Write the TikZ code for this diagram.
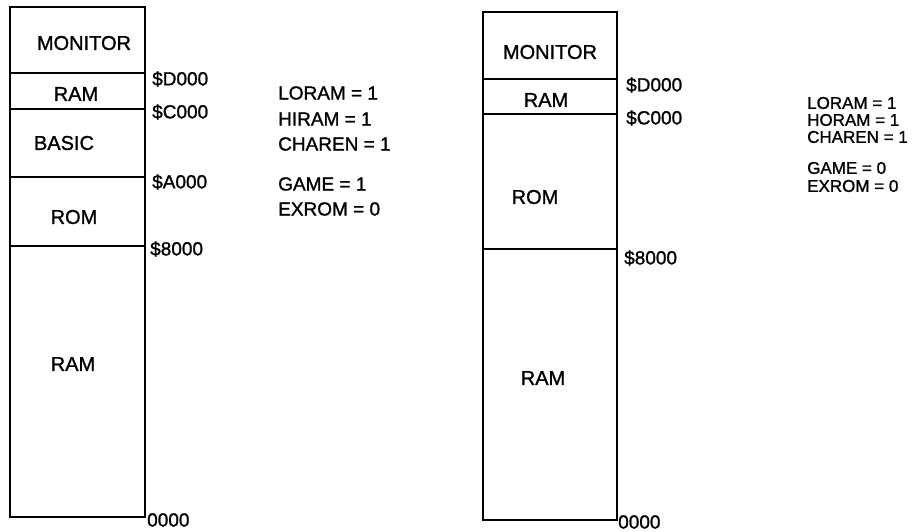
\documentclass[tikz,border=0pt]{standalone}
\usepackage{fontspec}
\setmainfont{Liberation Sans}
\newfontfamily\mapfont{Liberation Sans}[FakeBold=1.2]
\begin{document}
\begin{tikzpicture}[x=1pt,y=-1pt,
  frame/.style={line width=2.8pt,line join=miter},
  sep/.style={line width=2.2pt},
  reg/.style={font=\mapfont\fontsize{20}{22}\selectfont,inner sep=0pt},
  addr/.style={font=\mapfont\fontsize{19}{21}\selectfont,anchor=west,inner sep=0pt},
  flag/.style={font=\mapfont\fontsize{19}{21}\selectfont,anchor=west,inner sep=0pt},
  flagr/.style={flag,font=\mapfont\fontsize{17}{19}\selectfont}]
\useasboundingbox (0,0) rectangle (922,531);
% left map: BASIC in
\draw[frame] (10,7) rectangle (145,517);
\foreach \y in {73,109,177,246} \draw[sep] (10,\y) -- (145,\y);
\node[reg] (monA) at (84,43) {MONITOR};
\node[reg] (ramhiA) at (76,94) {RAM};
\node[reg] (basA) at (64,143) {BASIC};
\node[reg] (romA) at (74,217) {ROM};
\node[reg] (ramA) at (73,364) {RAM};
\node[addr] (dA) at (152,79) {\$D000};
\node[addr] (cA) at (152,112) {\$C000};
\node[addr] (aA) at (152,182) {\$A000};
\node[addr] (eA) at (150,249) {\$8000};
\node[addr] (zA) at (147,520) {0000};
% left flags
\node[flag] (loA) at (278,93) {LORAM = 1};
\node[flag] (hiA) at (278,119) {HIRAM = 1};
\node[flag] (chA) at (278,144) {CHAREN = 1};
\node[flag] (gaA) at (278,184) {GAME = 1};
\node[flag] (exA) at (278,209) {EXROM = 0};
% right map: cartridge ROM
\draw[frame] (483,12) rectangle (617,520);
\foreach \y in {79,114,249} \draw[sep] (483,\y) -- (617,\y);
\node[reg] (monB) at (550,52) {MONITOR};
\node[reg] (ramhiB) at (546,100) {RAM};
\node[reg] (romB) at (535,197) {ROM};
\node[reg] (ramB) at (543,378) {RAM};
\node[addr] (dB) at (626,85) {\$D000};
\node[addr] (cB) at (626,118) {\$C000};
\node[addr] (eB) at (624,258) {\$8000};
\node[addr] (zB) at (618,522) {0000};
% right flags
\node[flagr] (loB) at (807,103) {LORAM = 1};
\node[flagr] (hoB) at (807,120) {HORAM = 1};
\node[flagr] (chB) at (807,137) {CHAREN = 1};
\node[flagr] (gaB) at (807,168) {GAME = 0};
\node[flagr] (exB) at (807,186) {EXROM = 0};
\end{tikzpicture}
\end{document}
